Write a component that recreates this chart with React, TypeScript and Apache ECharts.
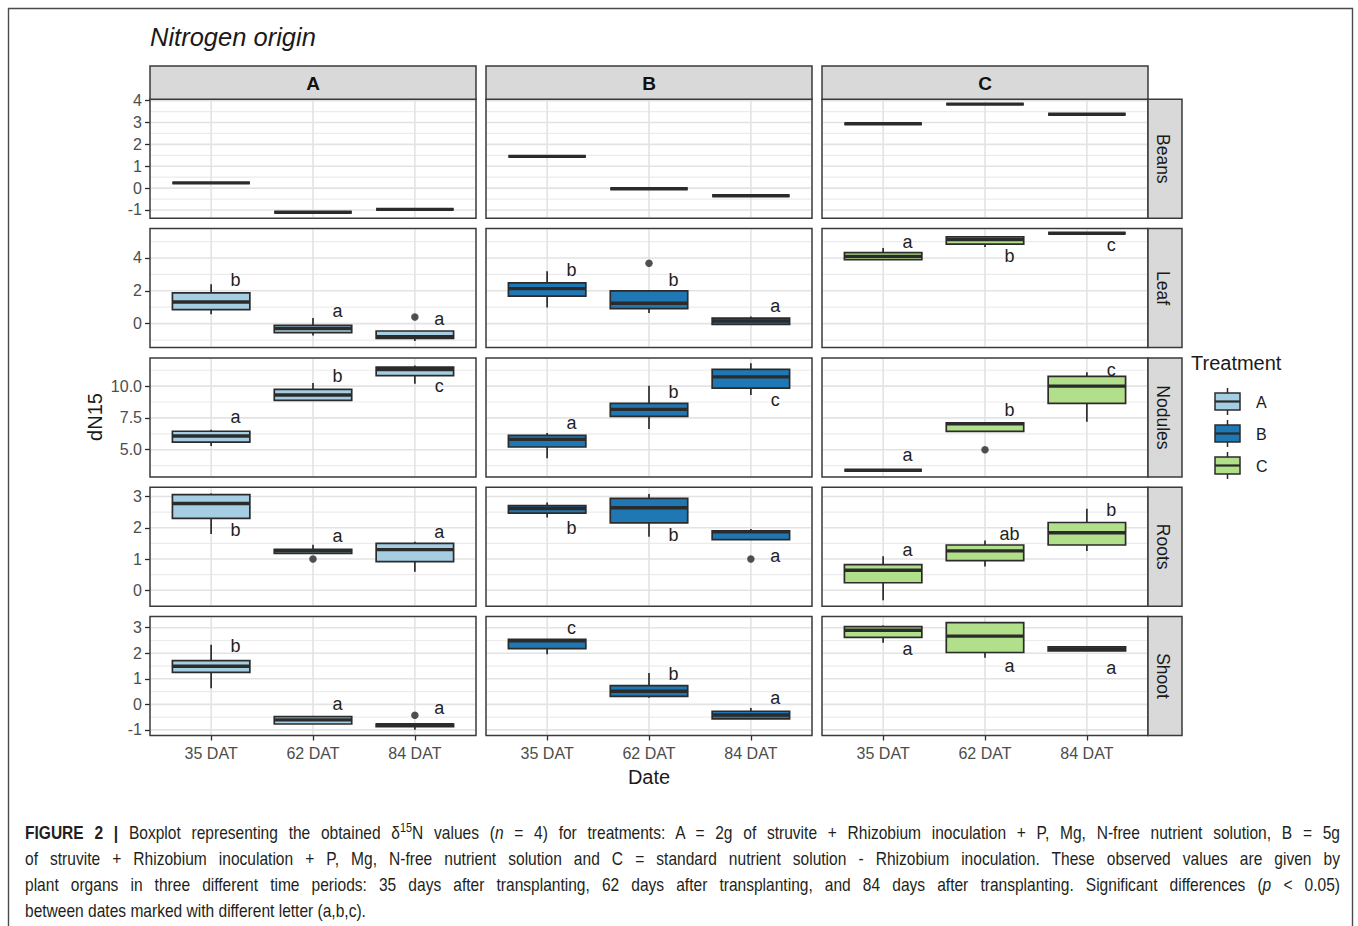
import React, { useEffect, useRef } from "react";
import * as echarts from "echarts";

const FONT = "'Liberation Sans', Arial, Helvetica, sans-serif";

const dates = ["35 DAT", "62 DAT", "84 DAT"];
const treatments = ["A", "B", "C"];
const organs = ["Beans", "Leaf", "Nodules", "Roots", "Shoot"];
const treatmentColors = ["#a6cee3", "#1f78b4", "#b2df8a"];

// Five-number summaries [min, q1, median, q3, max] at 35, 62 and 84 DAT
const beansA = [[0.24, 0.24, 0.24, 0.24, 0.24], [-1.1, -1.1, -1.1, -1.1, -1.1], [-0.97, -0.97, -0.97, -0.97, -0.97]];
const beansB = [[1.45, 1.45, 1.45, 1.45, 1.45], [-0.03, -0.03, -0.03, -0.03, -0.03], [-0.35, -0.35, -0.35, -0.35, -0.35]];
const beansC = [[2.94, 2.94, 2.94, 2.94, 2.94], [3.84, 3.84, 3.84, 3.84, 3.84], [3.38, 3.38, 3.38, 3.38, 3.38]];

const leafA = [[0.57, 0.85, 1.32, 1.87, 2.4], [-0.73, -0.55, -0.3, -0.1, 0.34], [-1.06, -0.9, -0.8, -0.45, -0.45]];
const leafB = [[0.98, 1.68, 2.13, 2.48, 3.19], [0.65, 0.91, 1.24, 1.99, 1.99], [-0.04, -0.04, 0.16, 0.34, 0.43]];
const leafC = [[3.9, 3.9, 4.1, 4.33, 4.61], [4.67, 4.84, 5.12, 5.28, 5.28], [5.51, 5.51, 5.51, 5.51, 5.51]];

const nodulesA = [[5.29, 5.6, 6.08, 6.45, 6.57], [8.88, 8.88, 9.3, 9.74, 10.24], [10.18, 10.82, 11.3, 11.5, 11.63]];
const nodulesB = [[4.32, 5.21, 5.81, 6.13, 6.31], [6.63, 7.62, 8.17, 8.64, 10.03], [9.3, 9.85, 10.73, 11.32, 11.79]];
const nodulesC = [[3.38, 3.38, 3.38, 3.38, 3.38], [6.44, 6.44, 7.04, 7.12, 7.12], [7.2, 8.64, 10.0, 10.77, 11.1]];

const rootsA = [[1.8, 2.3, 2.78, 3.06, 3.1], [1.18, 1.18, 1.26, 1.31, 1.46], [0.59, 0.92, 1.3, 1.5, 1.55]];
const rootsB = [[2.33, 2.47, 2.62, 2.71, 2.81], [1.71, 2.16, 2.64, 2.94, 3.08], [1.62, 1.62, 1.87, 1.9, 1.96]];
const rootsC = [[-0.32, 0.24, 0.64, 0.82, 1.09], [0.76, 0.95, 1.26, 1.45, 1.59], [1.26, 1.45, 1.84, 2.17, 2.61]];

const shootA = [[0.63, 1.25, 1.49, 1.71, 2.33], [-0.77, -0.77, -0.61, -0.48, -0.48], [-0.99, -0.87, -0.8, -0.77, -0.77]];
const shootB = [[1.96, 2.18, 2.49, 2.55, 2.55], [0.26, 0.31, 0.51, 0.73, 1.23], [-0.57, -0.57, -0.42, -0.27, -0.14]];
const shootC = [[2.41, 2.62, 2.9, 3.04, 3.09], [1.82, 2.03, 2.67, 3.2, 3.2], [2.09, 2.09, 2.17, 2.25, 2.25]];

// Outlying observations: [treatment index, date index, value]
const beansOutliers: number[][] = [];
const leafOutliers = [[0, 2, 0.4], [1, 1, 3.68]];
const nodulesOutliers = [[2, 1, 5.0]];
const rootsOutliers = [[0, 1, 1.0], [1, 2, 1.0]];
const shootOutliers = [[0, 2, -0.43]];

// Significance letters per treatment (35, 62, 84 DAT) and the height they are printed at
const beansLetters: string[][] = [[], [], []];
const beansLetterY: number[][] = [[], [], []];
const leafLetters = [["b", "a", "a"], ["b", "b", "a"], ["a", "b", "c"]];
const leafLetterY = [[2.64, 0.77, 0.26], [3.29, 2.68, 1.07], [4.98, 4.1, 4.77]];
const nodulesLetters = [["a", "b", "c"], ["a", "b", "c"], ["a", "b", "c"]];
const nodulesLetterY = [[7.56, 10.79, 10.0], [7.12, 9.55, 8.88], [4.58, 8.11, 11.26]];
const rootsLetters = [["b", "a", "a"], ["b", "b", "a"], ["a", "ab", "b"]];
const rootsLetterY = [[1.92, 1.73, 1.85], [1.99, 1.76, 1.09], [1.28, 1.81, 2.58]];
const shootLetters = [["b", "a", "a"], ["c", "b", "a"], ["a", "a", "a"]];
const shootLetterY = [[2.27, 0.0, -0.16], [2.98, 1.19, 0.24], [2.17, 1.52, 1.44]];

// Free y scales per organ row
const yMin = [-1.38, -1.46, 2.86, -0.51, -1.22];
const yMax = [4.06, 5.79, 12.22, 3.3, 3.44];
const yBreaks = [[-1, 0, 1, 2, 3, 4], [0, 2, 4], [5, 7.5, 10], [0, 1, 2, 3], [-1, 0, 1, 2, 3]];
const yMinorBreaks = [[-0.5, 0.5, 1.5, 2.5, 3.5], [-1, 1, 3, 5], [3.75, 6.25, 8.75, 11.25], [0.5, 1.5, 2.5], [-0.5, 0.5, 1.5, 2.5]];
const yDecimals = [0, 0, 1, 0, 0];

const organStats = [
  [beansA, beansB, beansC],
  [leafA, leafB, leafC],
  [nodulesA, nodulesB, nodulesC],
  [rootsA, rootsB, rootsC],
  [shootA, shootB, shootC],
];
const organOutliers = [beansOutliers, leafOutliers, nodulesOutliers, rootsOutliers, shootOutliers];
const organLetters = [beansLetters, leafLetters, nodulesLetters, rootsLetters, shootLetters];
const organLetterY = [beansLetterY, leafLetterY, nodulesLetterY, rootsLetterY, shootLetterY];

// Panel layout
const COL_LEFT = [150, 486, 822];
const PANEL_W = 326;
const ROW_TOP = [99.3, 228.6, 357.9, 487.2, 616.5];
const PANEL_H = 119;
const STRIP_TOP = 66;
const STRIP_RIGHT_W = 34;
const X_MIN = 0.4;
const X_MAX = 3.6;
const BOX_HALF = 0.38;
const LETTER_DX = 0.24;
const OUTLINE = "#2b2b2b";
const BORDER = "#3a3a3a";

function gridLineRenderer(params: any, api: any) {
  const cs = params.coordSys;
  const v = api.value(0);
  const kind = api.value(1);
  if (kind === 2) {
    const x = api.coord([v, 0])[0];
    return {
      type: "line",
      shape: { x1: x, y1: cs.y + 1, x2: x, y2: cs.y + cs.height - 1 },
      style: { stroke: "#e3e3e3", lineWidth: 1.6 },
    };
  }
  const y = api.coord([1, v])[1];
  return {
    type: "line",
    shape: { x1: cs.x + 1, y1: y, x2: cs.x + cs.width - 1, y2: y },
    style: kind === 0 ? { stroke: "#e3e3e3", lineWidth: 1.6 } : { stroke: "#ebebeb", lineWidth: 1.2 },
  };
}

function boxRenderer(color: string) {
  return (_params: any, api: any) => {
    const x = api.value(0);
    const lo = api.value(1);
    const q1 = api.value(2);
    const med = api.value(3);
    const q3 = api.value(4);
    const hi = api.value(5);
    const left = api.coord([x - BOX_HALF, med])[0];
    const right = api.coord([x + BOX_HALF, med])[0];
    const xc = api.coord([x, med])[0];
    const yLo = api.coord([x, lo])[1];
    const yQ1 = api.coord([x, q1])[1];
    const yMed = api.coord([x, med])[1];
    const yQ3 = api.coord([x, q3])[1];
    const yHi = api.coord([x, hi])[1];
    const lineStyle = { stroke: OUTLINE, lineWidth: 1.7 };
    return {
      type: "group",
      children: [
        { type: "line", shape: { x1: xc, y1: yHi, x2: xc, y2: yQ3 }, style: lineStyle },
        { type: "line", shape: { x1: xc, y1: yQ1, x2: xc, y2: yLo }, style: lineStyle },
        {
          type: "rect",
          shape: { x: left, y: yQ3, width: right - left, height: yQ1 - yQ3 },
          style: { fill: color, stroke: OUTLINE, lineWidth: 1.7 },
        },
        { type: "line", shape: { x1: left, y1: yMed, x2: right, y2: yMed }, style: { stroke: OUTLINE, lineWidth: 3.4 } },
      ],
    };
  };
}

function letterRenderer(texts: string[]) {
  return (params: any, api: any) => {
    const p = api.coord([api.value(0), api.value(1)]);
    return {
      type: "text",
      x: p[0],
      y: p[1],
      style: {
        text: texts[params.dataIndex],
        fontSize: 18,
        fontFamily: FONT,
        fill: "#1f1f1f",
        align: "center",
        verticalAlign: "middle",
      },
    };
  };
}

function buildOption() {
  const grid: any[] = [];
  const xAxis: any[] = [];
  const yAxis: any[] = [];
  const series: any[] = [];
  const graphic: any[] = [];

  organs.forEach((organ, r) => {
    treatments.forEach((_t, c) => {
      const gi = r * 3 + c;
      grid.push({ left: COL_LEFT[c], top: ROW_TOP[r], width: PANEL_W, height: PANEL_H });
      const bottomRow = r === organs.length - 1;
      const leftCol = c === 0;
      xAxis.push({
        gridIndex: gi,
        type: "value",
        position: "bottom",
        min: X_MIN,
        max: X_MAX,
        axisLine: { show: false, onZero: false },
        splitLine: { show: false },
        axisTick: {
          show: bottomRow,
          customValues: [1, 2, 3],
          length: 5,
          lineStyle: { color: OUTLINE, width: 1.3 },
        },
        axisLabel: {
          show: bottomRow,
          customValues: [1, 2, 3],
          formatter: (v: number) => dates[Math.round(v) - 1] ?? "",
          margin: 10,
          fontSize: 16,
          fontFamily: FONT,
          color: "#4d4d4d",
        },
      });
      yAxis.push({
        gridIndex: gi,
        type: "value",
        position: "left",
        min: yMin[r],
        max: yMax[r],
        axisLine: { show: false, onZero: false },
        splitLine: { show: false },
        axisTick: {
          show: leftCol,
          customValues: yBreaks[r],
          length: 5,
          lineStyle: { color: OUTLINE, width: 1.3 },
        },
        axisLabel: {
          show: leftCol,
          customValues: yBreaks[r],
          formatter: (v: number) => v.toFixed(yDecimals[r]),
          margin: 8,
          fontSize: 16,
          fontFamily: FONT,
          color: "#4d4d4d",
        },
      });

      const lines = [
        ...yBreaks[r].map((v) => [v, 0]),
        ...yMinorBreaks[r].map((v) => [v, 1]),
        ...[1, 2, 3].map((v) => [v, 2]),
      ];
      series.push({
        type: "custom",
        xAxisIndex: gi,
        yAxisIndex: gi,
        z: 1,
        silent: true,
        data: lines,
        renderItem: gridLineRenderer,
      });

      const stats = organStats[r][c];
      series.push({
        type: "custom",
        name: treatments[c],
        xAxisIndex: gi,
        yAxisIndex: gi,
        z: 2,
        silent: true,
        encode: { x: 0, y: [1, 2, 3, 4, 5] },
        data: stats.map((s, i) => [i + 1, ...s]),
        renderItem: boxRenderer(treatmentColors[c]),
      });

      const outs = organOutliers[r].filter((o) => o[0] === c).map((o) => [o[1] + 1, o[2]]);
      if (outs.length) {
        series.push({
          type: "scatter",
          xAxisIndex: gi,
          yAxisIndex: gi,
          z: 3,
          silent: true,
          symbol: "circle",
          symbolSize: 7.5,
          itemStyle: { color: "#262626" },
          data: outs,
        });
      }

      const letters = organLetters[r][c];
      if (letters.length) {
        series.push({
          type: "custom",
          xAxisIndex: gi,
          yAxisIndex: gi,
          z: 4,
          silent: true,
          data: letters.map((_l, i) => [i + 1 + LETTER_DX, organLetterY[r][c][i]]),
          renderItem: letterRenderer(letters),
        });
      }

      // panel border
      graphic.push({
        type: "rect",
        z: 20,
        silent: true,
        shape: { x: COL_LEFT[c], y: ROW_TOP[r], width: PANEL_W, height: PANEL_H },
        style: { fill: "none", stroke: BORDER, lineWidth: 1.5 },
      });
    });

    // right strip with organ name
    const sx = COL_LEFT[2] + PANEL_W;
    graphic.push({
      type: "rect",
      z: 20,
      silent: true,
      shape: { x: sx, y: ROW_TOP[r], width: STRIP_RIGHT_W, height: PANEL_H },
      style: { fill: "#d9d9d9", stroke: BORDER, lineWidth: 1.5 },
    });
    graphic.push({
      type: "text",
      z: 21,
      silent: true,
      x: sx + STRIP_RIGHT_W / 2 - 2,
      y: ROW_TOP[r] + PANEL_H / 2,
      rotation: -Math.PI / 2,
      style: {
        text: organ,
        fontSize: 17.5,
        fontFamily: FONT,
        fill: "#1a1a1a",
        align: "center",
        verticalAlign: "middle",
      },
    });
  });

  // top strips with treatment names
  treatments.forEach((t, c) => {
    graphic.push({
      type: "rect",
      z: 20,
      silent: true,
      shape: { x: COL_LEFT[c], y: STRIP_TOP, width: PANEL_W, height: ROW_TOP[0] - STRIP_TOP },
      style: { fill: "#d9d9d9", stroke: BORDER, lineWidth: 1.5 },
    });
    graphic.push({
      type: "text",
      z: 21,
      silent: true,
      x: COL_LEFT[c] + PANEL_W / 2,
      y: (STRIP_TOP + ROW_TOP[0]) / 2 + 1,
      style: {
        text: t,
        fontSize: 19,
        fontWeight: "bold",
        fontFamily: FONT,
        fill: "#111",
        align: "center",
        verticalAlign: "middle",
      },
    });
  });

  // figure frame
  graphic.push({
    type: "rect",
    z: 0,
    silent: true,
    shape: { x: 8.5, y: 8.5, width: 1344, height: 1000 },
    style: { fill: "none", stroke: "#4a4a4a", lineWidth: 1.4 },
  });

  // titles
  graphic.push({
    type: "text",
    z: 21,
    silent: true,
    x: 150,
    y: 37,
    style: {
      text: "Nitrogen origin",
      fontSize: 25.5,
      fontStyle: "italic",
      fontFamily: FONT,
      fill: "#1a1a1a",
      align: "left",
      verticalAlign: "middle",
    },
  });
  graphic.push({
    type: "text",
    z: 21,
    silent: true,
    x: 95,
    y: 417,
    rotation: Math.PI / 2,
    style: { text: "dN15", fontSize: 20, fontFamily: FONT, fill: "#1a1a1a", align: "center", verticalAlign: "middle" },
  });
  graphic.push({
    type: "text",
    z: 21,
    silent: true,
    x: COL_LEFT[1] + PANEL_W / 2,
    y: 777,
    style: { text: "Date", fontSize: 20, fontFamily: FONT, fill: "#1a1a1a", align: "center", verticalAlign: "middle" },
  });

  // legend
  graphic.push({
    type: "text",
    z: 21,
    silent: true,
    x: 1191,
    y: 363,
    style: { text: "Treatment", fontSize: 20, fontFamily: FONT, fill: "#1a1a1a", align: "left", verticalAlign: "middle" },
  });
  treatments.forEach((t, k) => {
    const cy = 401.5 + k * 32;
    const kx = 1215;
    const kw = 25;
    const kh = 17;
    graphic.push({
      type: "line",
      z: 21,
      silent: true,
      shape: { x1: kx + kw / 2, y1: cy - 13.5, x2: kx + kw / 2, y2: cy + 13.5 },
      style: { stroke: OUTLINE, lineWidth: 1.5 },
    });
    graphic.push({
      type: "rect",
      z: 22,
      silent: true,
      shape: { x: kx, y: cy - kh / 2, width: kw, height: kh },
      style: { fill: treatmentColors[k], stroke: OUTLINE, lineWidth: 1.5 },
    });
    graphic.push({
      type: "line",
      z: 23,
      silent: true,
      shape: { x1: kx, y1: cy, x2: kx + kw, y2: cy },
      style: { stroke: OUTLINE, lineWidth: 2.2 },
    });
    graphic.push({
      type: "text",
      z: 21,
      silent: true,
      x: 1256,
      y: cy + 1,
      style: { text: t, fontSize: 16, fontFamily: FONT, fill: "#1a1a1a", align: "left", verticalAlign: "middle" },
    });
  });

  return {
    animation: false,
    backgroundColor: "#ffffff",
    textStyle: { fontFamily: FONT },
    grid,
    xAxis,
    yAxis,
    series,
    graphic,
  };
}

// The caption face is a condensed sans; Liberation Sans squeezed horizontally stands in for it.
const CAPTION_SCALE = 0.84;
const CAPTION_WIDTH = 1315;

const lineStyle: React.CSSProperties = {
  height: 26,
  lineHeight: "26px",
  textAlign: "justify",
  textAlignLast: "justify",
  whiteSpace: "nowrap",
};

export default function App() {
  const ref = useRef<HTMLDivElement>(null);
  useEffect(() => {
    if (!ref.current) return;
    const chart = echarts.init(ref.current, undefined, { renderer: "svg" });
    chart.setOption(buildOption() as any);
    return () => chart.dispose();
  }, []);

  return (
    <div style={{ position: "fixed", left: 0, top: 0, width: 1358, height: 926, background: "#fff", overflow: "hidden" }}>
      <div ref={ref} style={{ position: "absolute", left: 0, top: 0, width: 1358, height: 926 }} />
      <div
        style={{
          position: "absolute",
          left: 25,
          top: 820,
          width: CAPTION_WIDTH / CAPTION_SCALE,
          transform: `scaleX(${CAPTION_SCALE})`,
          transformOrigin: "0 0",
          fontFamily: FONT,
          fontSize: 18.5,
          color: "#231f20",
        }}
      >
        <div style={lineStyle}>
          <b>FIGURE 2 |</b> Boxplot representing the obtained δ<sup style={{ fontSize: "0.7em", lineHeight: 0 }}>15</sup>N values (<i>n</i> = 4)
          for treatments: A = 2g of struvite + Rhizobium inoculation + P, Mg, N-free nutrient solution, B = 5g
        </div>
        <div style={lineStyle}>
          of struvite + Rhizobium inoculation + P, Mg, N-free nutrient solution and C = standard nutrient solution - Rhizobium inoculation. These observed values are given by
        </div>
        <div style={lineStyle}>
          plant organs in three different time periods: 35 days after transplanting, 62 days after transplanting, and 84 days after transplanting. Significant differences (<i>p</i> &lt; 0.05)
        </div>
        <div style={{ height: 26, lineHeight: "26px", whiteSpace: "nowrap" }}>between dates marked with different letter (a,b,c).</div>
      </div>
    </div>
  );
}
